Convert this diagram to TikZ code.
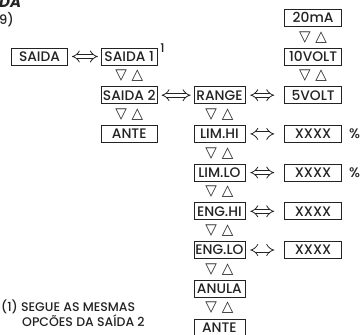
\documentclass[tikz,border=0pt]{standalone}
\usepackage{fontspec}
\setmainfont{Poppins}[UprightFont={* Medium}, BoldFont={* Bold}, BoldItalicFont={* Bold Italic}]
\newfontfamily\symfont{DejaVu Sans}
\usetikzlibrary{positioning, arrows.meta, calc}
\definecolor{inkgray}{RGB}{35,35,35}

\begin{document}
\begin{tikzpicture}[x=1pt, y=-1pt, font=\fontsize{13.8}{15}\selectfont,
      node distance=21pt and 33pt,
      box/.style={draw=inkgray, line width=0.7pt, text=inkgray,
                  minimum width=56pt, minimum height=17pt, inner sep=0pt},
      nbox/.style={box, minimum width=51pt},
      wbox/.style={box, minimum width=57pt},
      dbl/.style={draw=inkgray, double, double distance=3.4pt, line width=0.8pt,
                  {Implies[scale=1.2]}-{Implies[scale=1.2]}, shorten <=4pt, shorten >=3pt},
      keys/.style={font=\symfont\fontsize{15}{15}\selectfont, text=inkgray, inner sep=0pt},
      note/.style={anchor=base west, inner sep=0pt, text=inkgray}]
    \useasboundingbox (0,0) rectangle (363,334);
    \clip (0,0) rectangle (363,334);
    % cut-off heading
    \node[note, font=\bfseries\itshape\fontsize{15}{15}\selectfont] (head) at (-1,7.5) {DA};
    \node[note, font=\fontsize{13}{13}\selectfont] (pag) at (-1,25) {9)};
    % output selection
    \node[box] (saida) at (39.5,56.5) {SAIDA};
    \node[box, right=of saida]  (saida1) {SAIDA 1};
    \node[box, below=of saida1] (saida2) {SAIDA 2};
    \node[box, below=of saida2] (ante1)  {ANTE};
    \node[note, anchor=west, font=\fontsize{12}{12}\selectfont] (sup) at ([xshift=2.5pt]saida1.north east) {1};
    % range and limits
    \node[nbox, right=36pt of saida2] (range) {RANGE};
    \node[nbox, below=of range] (limhi) {LIM.HI};
    \node[nbox, below=of limhi] (limlo) {LIM.LO};
    \node[nbox, below=of limlo] (enghi) {ENG.HI};
    \node[nbox, below=of enghi] (englo) {ENG.LO};
    \node[nbox, below=of englo] (anula) {ANULA};
    \node[nbox, below=of anula] (ante2) {ANTE};
    % values
    \node[wbox, right=39pt of range] (v5)  {5VOLT};
    \node[wbox, above=of v5]  (v10)  {10VOLT};
    \node[wbox, above=of v10] (ma20) {20mA};
    \node[wbox, right=39pt of limhi] (xhi)  {XXXX};
    \node[wbox, right=39pt of limlo] (xlo)  {XXXX};
    \node[wbox, right=39pt of enghi] (xehi) {XXXX};
    \node[wbox, right=39pt of englo] (xelo) {XXXX};
    \node[note, anchor=west] (pcthi) at ([xshift=7pt]xhi.east) {\%};
    \node[note, anchor=west] (pctlo) at ([xshift=7pt]xlo.east) {\%};
    % enter / exit arrows
    \draw[dbl] (saida) -- (saida1);
    \draw[dbl] (saida2) -- (range);
    \draw[dbl, shorten <=5pt, shorten >=10pt] (range) -- (v5);
    \draw[dbl, shorten <=5pt, shorten >=10pt] (limhi) -- (xhi);
    \draw[dbl, shorten <=5pt, shorten >=10pt] (limlo) -- (xlo);
    \draw[dbl, shorten <=5pt, shorten >=10pt] (enghi) -- (xehi);
    \draw[dbl, shorten <=5pt, shorten >=10pt] (englo) -- (xelo);
    % up / down keys
    \node[keys] (k1)  at ($(saida1)!0.5!(saida2)$) {▽ △};
    \node[keys] (k2)  at ($(saida2)!0.5!(ante1)$)  {▽ △};
    \node[keys] (k3)  at ($(ma20)!0.5!(v10)$)      {▽ △};
    \node[keys] (k4)  at ($(v10)!0.5!(v5)$)        {▽ △};
    \node[keys] (k5)  at ($(range)!0.5!(limhi)$)   {▽ △};
    \node[keys] (k6)  at ($(limhi)!0.5!(limlo)$)   {▽ △};
    \node[keys] (k7)  at ($(limlo)!0.5!(enghi)$)   {▽ △};
    \node[keys] (k8)  at ($(enghi)!0.5!(englo)$)   {▽ △};
    \node[keys] (k9)  at ($(englo)!0.5!(anula)$)   {▽ △};
    \node[keys] (k10) at ($(anula)!0.5!(ante2)$)   {▽ △};
    % footnote
    \node[note, font=\fontsize{12.5}{14}\selectfont] (note1) at (1,311) {(1) SEGUE AS MESMAS};
    \node[note, font=\fontsize{12.5}{14}\selectfont] (note2) at (22,326) {OPCÕES DA SAÍDA 2};
\end{tikzpicture}
\end{document}
